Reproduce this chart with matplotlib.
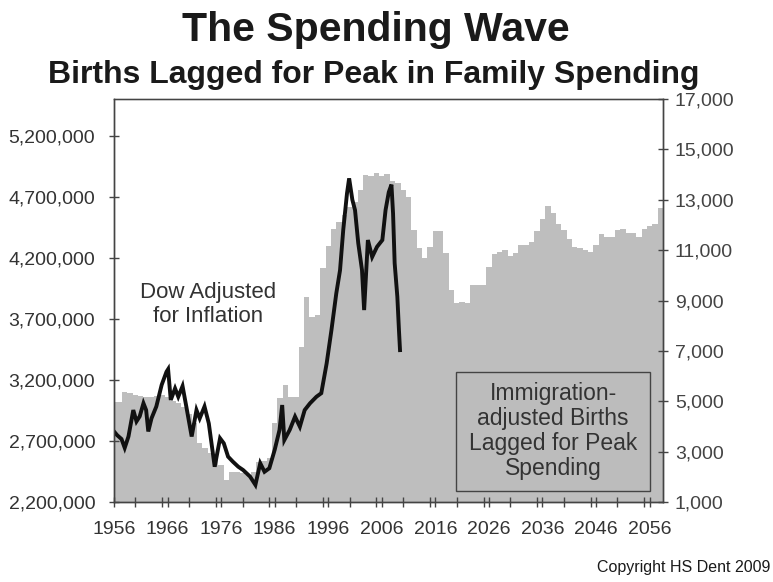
import matplotlib
matplotlib.use("Agg")
from matplotlib import pyplot as plt
from matplotlib.patches import Rectangle
from matplotlib.ticker import FuncFormatter, MultipleLocator

plt.rcParams["font.family"] = ["Liberation Sans", "DejaVu Sans"]

# immigration-adjusted births, lagged for peak spending (left axis)
birth_years = list(range(1956, 2059))
births = [
    3020000, 3020000, 3100000, 3090000, 3080000, 3070000, 3060000, 3060000, 3070000, 3080000,  # 1956-65
    3060000, 3030000, 3010000, 2980000, 2920000, 2850000, 2680000, 2640000, 2600000, 2550000,  # 1966-75
    2500000, 2380000, 2450000, 2450000, 2440000, 2420000, 2450000, 2530000, 2540000, 2560000,  # 1976-85
    2850000, 3050000, 3160000, 3060000, 3060000, 3470000, 3880000, 3720000, 3730000, 4120000,  # 1986-95
    4300000, 4440000, 4500000, 4550000, 4620000, 4660000, 4760000, 4880000, 4870000, 4900000,  # 1996-05
    4870000, 4890000, 4830000, 4820000, 4760000, 4700000, 4430000, 4280000, 4200000, 4290000,  # 2006-15
    4420000, 4420000, 4240000, 3940000, 3830000, 3840000, 3830000, 3980000, 3980000, 3980000,  # 2016-25
    4130000, 4230000, 4250000, 4270000, 4220000, 4240000, 4310000, 4310000, 4330000, 4420000,  # 2026-35
    4520000, 4630000, 4570000, 4480000, 4430000, 4360000, 4290000, 4280000, 4270000, 4250000,  # 2036-45
    4310000, 4400000, 4370000, 4370000, 4430000, 4440000, 4410000, 4410000, 4370000, 4440000,  # 2046-55
    4460000, 4480000, 4610000,  # 2056-58
]

# Dow adjusted for inflation (right axis)
dow_years = [
    1956.0, 1956.6, 1957.4, 1958.0, 1958.7, 1959.6, 1960.2, 1960.8, 1961.5, 1962.0,
    1962.4, 1963.0, 1963.9, 1964.9, 1965.8, 1966.1, 1966.6, 1967.4, 1968.0, 1968.8,
    1969.5, 1970.5, 1971.4, 1972.0, 1972.9, 1973.7, 1974.8, 1975.8, 1976.5, 1977.3,
    1978.2, 1979.2, 1980.1, 1981.4, 1982.4, 1983.3, 1984.1, 1985.0, 1986.0, 1986.9,
    1987.4, 1987.8, 1988.8, 1989.8, 1990.7, 1991.6, 1992.6, 1993.8, 1994.7, 1995.7,
    1996.6, 1997.5, 1998.2, 1998.8, 1999.5, 1999.9, 2000.5, 2001.0, 2001.6, 2002.3,
    2002.7, 2003.4, 2004.2, 2005.1, 2006.1, 2006.7, 2007.3, 2007.8, 2008.1, 2008.4,
    2008.9, 2009.2, 2009.4,
]
dow = [
    3800, 3650, 3500, 3150, 3600, 4650, 4200, 4400, 4920, 4650,
    3800, 4320, 4790, 5650, 6170, 6270, 5050, 5510, 5180, 5600,
    4790, 3600, 4650, 4320, 4790, 4120, 2400, 3530, 3330, 2800,
    2600, 2400, 2270, 2010, 1680, 2540, 2200, 2340, 3070, 3860,
    4850, 3460, 3860, 4390, 3990, 4650, 4920, 5180, 5320, 6500,
    7830, 9280, 10200, 11800, 13250, 13850, 13000, 12590, 11280, 10210,
    8620, 11400, 10730, 11130, 11400, 12590, 13300, 13600, 12460, 10480,
    9150, 7830, 7030,
]

left_ticks = [2200000, 2700000, 3200000, 3700000, 4200000, 4700000, 5200000]
right_ticks = [1000, 3000, 5000, 7000, 9000, 11000, 13000, 15000, 17000]
year_labels = list(range(1956, 2057, 10))

text_col = "#333333"
fig = plt.figure(figsize=(7.73, 5.82), dpi=100)
ax = fig.add_axes([114 / 773, 1 - 502 / 582, 549 / 773, 403 / 582])
ax2 = ax.twinx()

ax.bar(birth_years, births, width=1.0, color="#bebebe", linewidth=0)
ax.set_xlim(1956, 2058.5)
ax.set_ylim(2200000, 5505000)
ax.set_yticks(left_ticks)
ax.yaxis.set_major_formatter(FuncFormatter(lambda v, p: f"{int(v):,}"))
ax.set_xticks(year_labels)
ax.xaxis.set_minor_locator(MultipleLocator(5))

ax2.plot(dow_years, dow, color="#111111", lw=2.8, solid_joinstyle="miter")
ax2.set_ylim(1000, 17000)
ax2.set_yticks(right_ticks)
ax2.yaxis.set_major_formatter(FuncFormatter(lambda v, p: f"{int(v):,}"))

for a in (ax, ax2):
    for s in a.spines.values():
        s.set_color("#444444")
        s.set_linewidth(1.0)
ax.spines["top"].set_color("#888888")

ax.tick_params(axis="y", direction="inout", length=7, width=1, color="#444444",
               labelsize=14, labelcolor=text_col, pad=10)
ax.tick_params(axis="x", which="both", direction="inout", length=7, width=1,
               color="#444444", labelsize=14, labelcolor=text_col, pad=10)
ax2.tick_params(axis="y", direction="inout", length=7, width=1, color="#444444",
                labelsize=14, labelcolor="#444444", pad=5)

ax2.text(0.171, 0.491, "Dow Adjusted\nfor Inflation", transform=ax.transAxes,
         ha="center", va="center", fontsize=16, color=text_col, linespacing=1.2)

box = Rectangle((0.623, 0.027), 0.353, 0.296, transform=ax.transAxes,
                facecolor="#bcbcbc", edgecolor="#444444", lw=1.0, zorder=5)
ax2.add_patch(box)
ax2.text(0.8, 0.176, "Immigration-\nadjusted Births\nLagged for Peak\nSpending",
         transform=ax.transAxes, ha="center", va="center", fontsize=16.5,
         color=text_col, linespacing=1.12, zorder=6)

fig.text(376 / 773, 1 - 41 / 582, "The Spending Wave", ha="center", va="baseline",
         fontsize=29.5, fontweight="bold", color="#1a1a1a")
fig.text(374 / 773, 1 - 83 / 582, "Births Lagged for Peak in Family Spending",
         ha="center", va="baseline", fontsize=23, fontweight="bold", color="#1a1a1a")
fig.text(770 / 773, 1 - 572 / 582, "Copyright HS Dent 2009", ha="right", va="baseline",
         fontsize=11.5, color="#1a1a1a")

fig.savefig("out.png", dpi=100)
